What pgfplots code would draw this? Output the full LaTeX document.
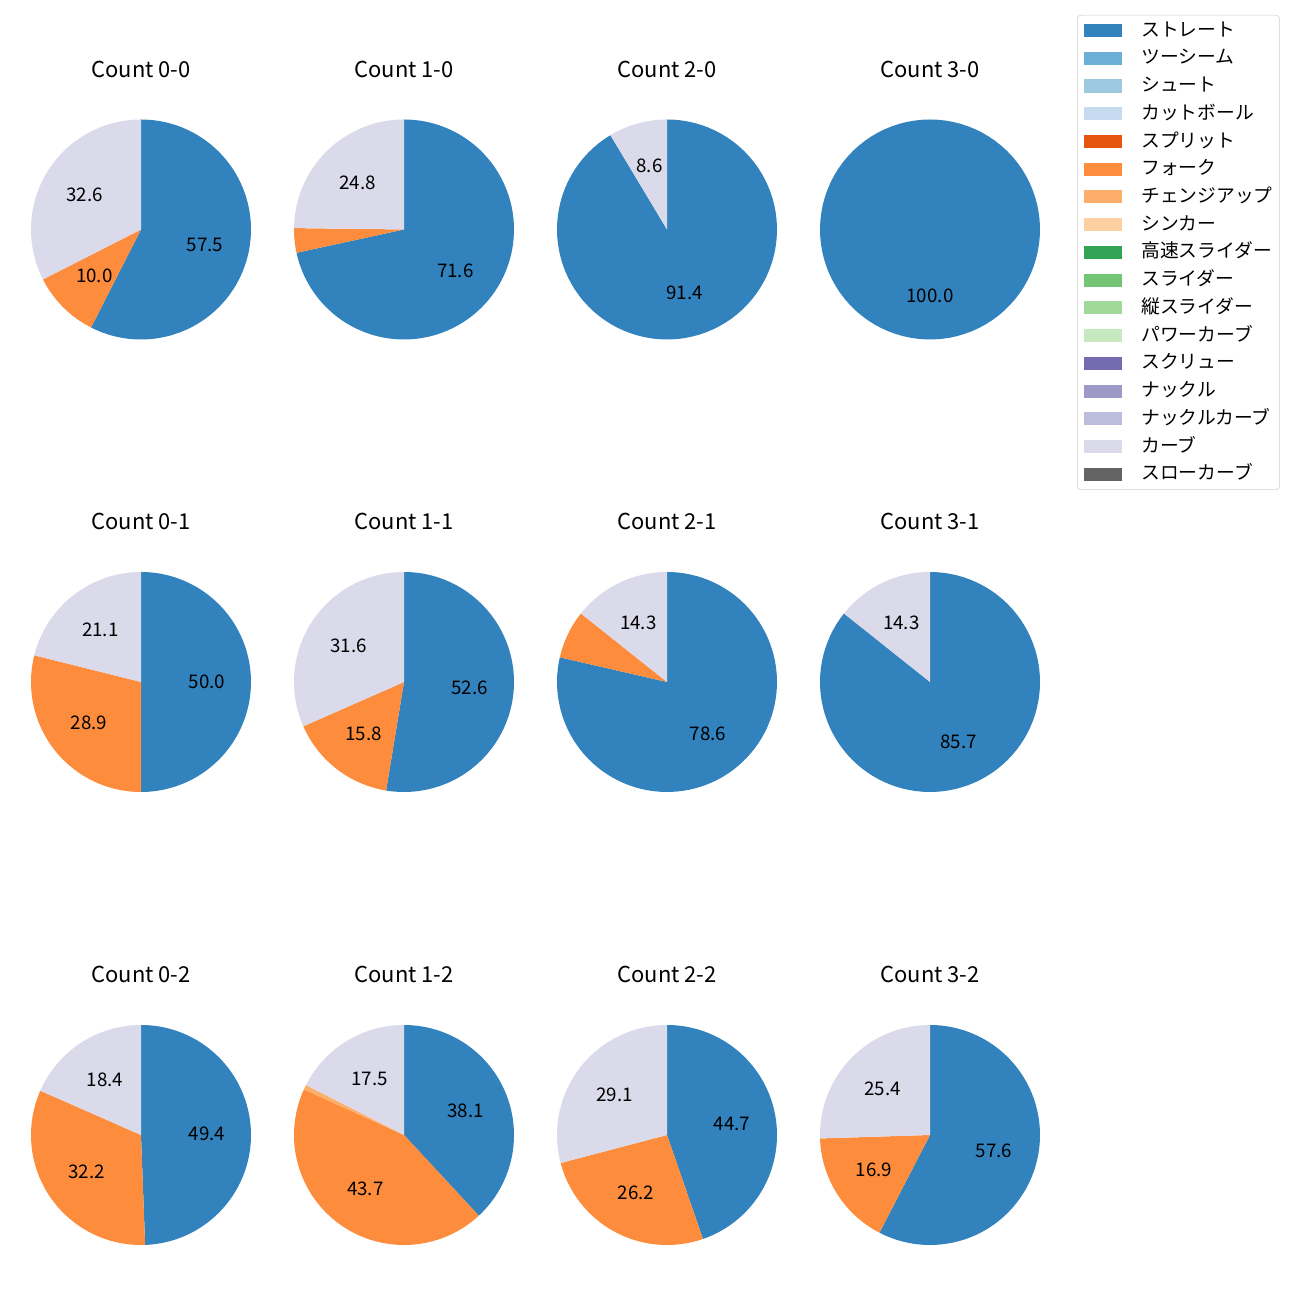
\documentclass[border=0pt]{standalone}
\usepackage{pgfplots}
\pgfplotsset{compat=1.18}
\usepackage{fontspec}
\setmainfont{Noto Sans CJK JP}
\definecolor{c1}{HTML}{3182BD}
\definecolor{c2}{HTML}{6BAED6}
\definecolor{c3}{HTML}{9ECAE1}
\definecolor{c4}{HTML}{C6DBEF}
\definecolor{c5}{HTML}{E6550D}
\definecolor{c6}{HTML}{FD8D3C}
\definecolor{c7}{HTML}{FDAE6B}
\definecolor{c8}{HTML}{FDD0A2}
\definecolor{c9}{HTML}{31A354}
\definecolor{c10}{HTML}{74C476}
\definecolor{c11}{HTML}{A1D99B}
\definecolor{c12}{HTML}{C7E9C0}
\definecolor{c13}{HTML}{756BB1}
\definecolor{c14}{HTML}{9E9AC8}
\definecolor{c15}{HTML}{BCBDDC}
\definecolor{c16}{HTML}{DADAEB}
\definecolor{c17}{HTML}{636363}
\newcommand{\lbl}{\fontsize{13.5bp}{16bp}\selectfont}
\newcommand{\ttl}{\fontsize{15.8bp}{19bp}\selectfont}
% \pw{cx}{cy}{start %}{size %}{colour}{label}
\newcommand{\pw}[6]{%
  \pgfmathsetmacro\aA{90-3.6*(#3)}%
  \pgfmathsetmacro\aB{90-3.6*(#3+#4)}%
  \pgfmathsetmacro\aM{(\aA+\aB)/2}%
  \pgfmathsetmacro\lx{#1+66*cos(\aM)}%
  \pgfmathsetmacro\ly{#2+66*sin(\aM)}%
  \edef\doit{\noexpand\addplot[fill=#5, draw=none, forget plot, domain=\aB:\aA, samples=90] ({#1+110*cos(x)},{#2+110*sin(x)}) -- (axis cs:#1,#2) -- cycle;
    \noexpand\node[font=\noexpand\lbl, inner sep=0pt] at (axis cs:\lx,\ly) {#6};}%
  \doit}
\begin{document}
\begin{tikzpicture}
\path[use as bounding box] (0,0) rectangle (936bp,936bp);
\begin{axis}[at={(0,0)}, anchor=south west, width=936bp, height=936bp, scale only axis,
  xmin=0, xmax=1300, ymin=0, ymax=1300, hide axis, clip=false,
  legend cell align=left,
  legend image code/.code={\path[#1, draw=none, sharp corners] (0bp,-4.7bp) rectangle (27.4bp,4.7bp);},
  legend style={at={(0.8285,0.9885)}, anchor=north west, draw=black!20, rounded corners=2.5bp,
    font=\lbl, inner xsep=5bp, inner ysep=4bp, row sep=5.97bp, column sep=13.7bp,
    nodes={inner sep=0pt, text height=11bp, text depth=3bp}},
]
% Row 1
\pw{141}{1070.5}{0}{57.5}{c1}{57.5}
\pw{141}{1070.5}{57.5}{10.0}{c6}{10.0}
\pw{141}{1070.5}{67.5}{32.5}{c16}{32.6}
\pw{404}{1070.5}{0}{71.6}{c1}{71.6}
\pw{404}{1070.5}{71.6}{3.6}{c6}{}
\pw{404}{1070.5}{75.2}{24.8}{c16}{24.8}
\pw{667}{1070.5}{0}{91.4}{c1}{91.4}
\pw{667}{1070.5}{91.4}{8.6}{c16}{8.6}
\pw{930}{1070.5}{0}{100}{c1}{100.0}
% Row 2
\pw{141}{618}{0}{50.0}{c1}{50.0}
\pw{141}{618}{50.0}{28.9}{c6}{28.9}
\pw{141}{618}{78.9}{21.1}{c16}{21.1}
\pw{404}{618}{0}{52.6}{c1}{52.6}
\pw{404}{618}{52.6}{15.8}{c6}{15.8}
\pw{404}{618}{68.4}{31.6}{c16}{31.6}
\pw{667}{618}{0}{78.6}{c1}{78.6}
\pw{667}{618}{78.6}{7.1}{c6}{}
\pw{667}{618}{85.7}{14.3}{c16}{14.3}
\pw{930}{618}{0}{85.7}{c1}{85.7}
\pw{930}{618}{85.7}{14.3}{c16}{14.3}
% Row 3
\pw{141}{165}{0}{49.4}{c1}{49.4}
\pw{141}{165}{49.4}{32.2}{c6}{32.2}
\pw{141}{165}{81.6}{18.4}{c16}{18.4}
\pw{404}{165}{0}{38.1}{c1}{38.1}
\pw{404}{165}{38.1}{43.7}{c6}{43.7}
\pw{404}{165}{81.8}{0.7}{c7}{}
\pw{404}{165}{82.5}{17.5}{c16}{17.5}
\pw{667}{165}{0}{44.7}{c1}{44.7}
\pw{667}{165}{44.7}{26.2}{c6}{26.2}
\pw{667}{165}{70.9}{29.1}{c16}{29.1}
\pw{930}{165}{0}{57.6}{c1}{57.6}
\pw{930}{165}{57.6}{16.9}{c6}{16.9}
\pw{930}{165}{74.5}{25.5}{c16}{25.4}
% Titles
\node[font=\ttl, anchor=base] at (axis cs:141,1222) {Count 0-0};
\node[font=\ttl, anchor=base] at (axis cs:404,1222) {Count 1-0};
\node[font=\ttl, anchor=base] at (axis cs:667,1222) {Count 2-0};
\node[font=\ttl, anchor=base] at (axis cs:930,1222) {Count 3-0};
\node[font=\ttl, anchor=base] at (axis cs:141,770) {Count 0-1};
\node[font=\ttl, anchor=base] at (axis cs:404,770) {Count 1-1};
\node[font=\ttl, anchor=base] at (axis cs:667,770) {Count 2-1};
\node[font=\ttl, anchor=base] at (axis cs:930,770) {Count 3-1};
\node[font=\ttl, anchor=base] at (axis cs:141,317) {Count 0-2};
\node[font=\ttl, anchor=base] at (axis cs:404,317) {Count 1-2};
\node[font=\ttl, anchor=base] at (axis cs:667,317) {Count 2-2};
\node[font=\ttl, anchor=base] at (axis cs:930,317) {Count 3-2};
% Legend
\addlegendimage{fill=c1}\addlegendentry{ストレート}
\addlegendimage{fill=c2}\addlegendentry{ツーシーム}
\addlegendimage{fill=c3}\addlegendentry{シュート}
\addlegendimage{fill=c4}\addlegendentry{カットボール}
\addlegendimage{fill=c5}\addlegendentry{スプリット}
\addlegendimage{fill=c6}\addlegendentry{フォーク}
\addlegendimage{fill=c7}\addlegendentry{チェンジアップ}
\addlegendimage{fill=c8}\addlegendentry{シンカー}
\addlegendimage{fill=c9}\addlegendentry{高速スライダー}
\addlegendimage{fill=c10}\addlegendentry{スライダー}
\addlegendimage{fill=c11}\addlegendentry{縦スライダー}
\addlegendimage{fill=c12}\addlegendentry{パワーカーブ}
\addlegendimage{fill=c13}\addlegendentry{スクリュー}
\addlegendimage{fill=c14}\addlegendentry{ナックル}
\addlegendimage{fill=c15}\addlegendentry{ナックルカーブ}
\addlegendimage{fill=c16}\addlegendentry{カーブ}
\addlegendimage{fill=c17}\addlegendentry{スローカーブ}
\end{axis}
\end{tikzpicture}
\end{document}
